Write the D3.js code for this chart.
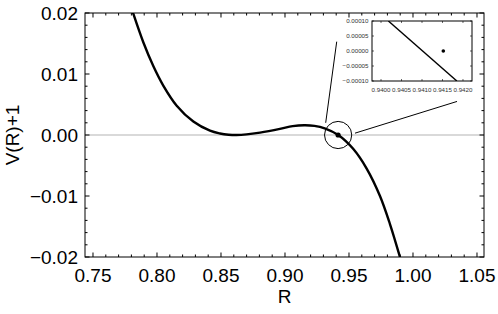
<!DOCTYPE html>
<html><head><meta charset="utf-8">
<script src="https://cdn.jsdelivr.net/npm/d3@7"></script>
<style>html,body{margin:0;padding:0;background:#fff;}svg{display:block;font-family:"Liberation Sans",Arial,sans-serif;}</style>
</head><body>
<script>
// ---- data ----
const curveR = [0.7790,0.7813,0.7893,0.7971,0.8049,0.8154,0.8284,0.8414,0.8492,0.8560,0.8620,0.8700,0.8805,0.8960,0.9060,0.9150,0.9230,0.9310,0.9416,0.9534,0.9638,0.9742,0.9820,0.9898,0.9910];
const curveV = [0.0215,0.0200,0.0152,0.0113,0.0081,0.0048,0.0022,0.0007,0.00025,0.00005,0.0000,0.0001,0.0004,0.0010,0.00145,0.0016,0.0015,0.0011,0.0000,-0.0023,-0.0055,-0.0100,-0.0146,-0.0200,-0.0209];
const xTicks = [0.75,0.80,0.85,0.90,0.95,1.00,1.05];
const xTickLabels = ["0.75","0.80","0.85","0.90","0.95","1.00","1.05"];
const yTicks = [-0.02,-0.01,0.00,0.01,0.02];
const yTickLabels = ["\u22120.02","\u22120.01","0.00","0.01","0.02"];
const pointR = [0.9415];
const pointV = [0.0];
// callout lines (data coordinates of the main plot)
const calloutR1 = [0.9318,0.9404];
const calloutV1 = [0.0020,0.0153];
const calloutR2 = [0.9547,1.0344];
const calloutV2 = [0.0003,0.0055];
// inset
const insetLineR = [0.94018,0.94185];
const insetLineV = [0.00010,-0.00010];
const insetPointR = [0.94152];
const insetPointV = [0.0];
const insetXTicks = [0.9400,0.9405,0.9410,0.9415,0.9420];
const insetXTickLabels = ["0.9400","0.9405","0.9410","0.9415","0.9420"];
const insetYTicks = [-0.00010,-0.00005,0.00000,0.00005,0.00010];
const insetYTickLabels = ["\u22120.00010","\u22120.00005","0.00000","0.00005","0.00010"];

const W = 498, H = 314;
const svg = d3.select("body").append("svg").attr("width",W).attr("height",H);

const x = d3.scaleLinear().domain([0.74375,1.05547]).range([85,484]);
const y = d3.scaleLinear().domain([-0.02,0.02]).range([257,13]);

svg.append("clipPath").attr("id","clip").append("rect")
  .attr("x",85).attr("y",13).attr("width",399).attr("height",244);

// zero line
svg.append("line").attr("x1",85).attr("x2",484).attr("y1",y(0)).attr("y2",y(0))
  .attr("stroke","#b3b3b3").attr("stroke-width",1);

// curve
const pts = curveR.map((r,i)=>[r,curveV[i]]);
svg.append("path").datum(pts).attr("clip-path","url(#clip)")
  .attr("fill","none").attr("stroke","#000").attr("stroke-width",2.4)
  .attr("d", d3.line().x(d=>x(d[0])).y(d=>y(d[1])).curve(d3.curveCatmullRom.alpha(0.5)));

// point + circle
svg.selectAll(".pt").data(pointR).enter().append("circle")
  .attr("cx",(d)=>x(d)).attr("cy",(d,i)=>y(pointV[i])).attr("r",2.6).attr("fill","#000");
svg.append("circle").attr("cx",x(pointR[0])).attr("cy",y(pointV[0])).attr("r",13.6)
  .attr("fill","none").attr("stroke","#000").attr("stroke-width",1);

// callout lines
svg.append("line").attr("x1",x(calloutR1[0])).attr("y1",y(calloutV1[0])).attr("x2",x(calloutR1[1])).attr("y2",y(calloutV1[1]))
  .attr("stroke","#000").attr("stroke-width",1);
svg.append("line").attr("x1",x(calloutR2[0])).attr("y1",y(calloutV2[0])).attr("x2",x(calloutR2[1])).attr("y2",y(calloutV2[1]))
  .attr("stroke","#000").attr("stroke-width",1);

// frame
svg.append("rect").attr("x",85).attr("y",13).attr("width",399).attr("height",244)
  .attr("fill","none").attr("stroke","#000").attr("stroke-width",1);

// ticks
const tk = svg.append("g").attr("stroke","#000").attr("stroke-width",1);
const xMinor = d3.range(75,106).map(v=>v/100).filter(v=>!xTicks.some(t=>Math.abs(t-v)<1e-9));
const yMinor = d3.range(-10,11).map(v=>v*0.002).filter(v=>!yTicks.some(t=>Math.abs(t-v)<1e-9));
xTicks.forEach(t=>{ const px=x(t);
  tk.append("line").attr("x1",px).attr("x2",px).attr("y1",257).attr("y2",252.5);
  tk.append("line").attr("x1",px).attr("x2",px).attr("y1",13).attr("y2",17.5);});
xMinor.forEach(t=>{ const px=x(t);
  tk.append("line").attr("x1",px).attr("x2",px).attr("y1",257).attr("y2",254.5);
  tk.append("line").attr("x1",px).attr("x2",px).attr("y1",13).attr("y2",15.5);});
yTicks.forEach(t=>{ const py=y(t);
  tk.append("line").attr("x1",85).attr("x2",89.5).attr("y1",py).attr("y2",py);
  tk.append("line").attr("x1",484).attr("x2",479.5).attr("y1",py).attr("y2",py);});
yMinor.forEach(t=>{ const py=y(t);
  tk.append("line").attr("x1",85).attr("x2",87.5).attr("y1",py).attr("y2",py);
  tk.append("line").attr("x1",484).attr("x2",481.5).attr("y1",py).attr("y2",py);});

// tick labels
const fs = 19;
svg.selectAll(".xl").data(xTicks).enter().append("text")
  .attr("x",d=>x(d)).attr("y",282).attr("text-anchor","middle").attr("font-size",fs)
  .text((d,i)=>xTickLabels[i]);
svg.selectAll(".yl").data(yTicks).enter().append("text")
  .attr("x",78).attr("y",d=>y(d)+6.8).attr("text-anchor","end").attr("font-size",fs)
  .text((d,i)=>yTickLabels[i]);
svg.append("text").attr("x",284.5).attr("y",303).attr("text-anchor","middle").attr("font-size",fs).text("R");
svg.append("text").attr("transform","translate(19,135) rotate(-90)").attr("text-anchor","middle").attr("font-size",fs).text("V(R)+1");

// inset
const ix = d3.scaleLinear().domain([0.93978,0.94222]).range([372,472]);
const iy = d3.scaleLinear().domain([-0.0001,0.0001]).range([81,21]);
const ig = svg.append("g");
ig.append("rect").attr("x",372).attr("y",21).attr("width",100).attr("height",60).attr("fill","#fff");
ig.append("clipPath").attr("id","iclip").append("rect").attr("x",372).attr("y",21).attr("width",100).attr("height",60);
const ipts = insetLineR.map((r,i)=>[r,insetLineV[i]]);
ig.append("path").datum(ipts).attr("clip-path","url(#iclip)").attr("fill","none").attr("stroke","#000").attr("stroke-width",1.4)
  .attr("d", d3.line().x(d=>ix(d[0])).y(d=>iy(d[1])));
ig.selectAll(".ip").data(insetPointR).enter().append("circle")
  .attr("cx",d=>ix(d)).attr("cy",(d,i)=>iy(insetPointV[i])).attr("r",1.8).attr("fill","#000");
ig.append("rect").attr("x",372).attr("y",21).attr("width",100).attr("height",60)
  .attr("fill","none").attr("stroke","#000").attr("stroke-width",1);
insetXTicks.forEach(t=>{ const px=ix(t);
  ig.append("line").attr("x1",px).attr("x2",px).attr("y1",81).attr("y2",79).attr("stroke","#000").attr("stroke-width",0.6);
  ig.append("line").attr("x1",px).attr("x2",px).attr("y1",21).attr("y2",23).attr("stroke","#000").attr("stroke-width",0.6);});
insetYTicks.forEach(t=>{ const py=iy(t);
  ig.append("line").attr("x1",372).attr("x2",374).attr("y1",py).attr("y2",py).attr("stroke","#000").attr("stroke-width",0.6);
  ig.append("line").attr("x1",472).attr("x2",470).attr("y1",py).attr("y2",py).attr("stroke","#000").attr("stroke-width",0.6);});
ig.selectAll(".ixl").data(insetXTicks).enter().append("text")
  .attr("x",d=>ix(d)).attr("y",91.5).attr("text-anchor","middle").attr("font-size",6.2).attr("fill","#333")
  .text((d,i)=>insetXTickLabels[i]);
ig.selectAll(".iyl").data(insetYTicks).enter().append("text")
  .attr("x",368.5).attr("y",d=>iy(d)+2.2).attr("text-anchor","end").attr("font-size",6.2).attr("fill","#333")
  .text((d,i)=>insetYTickLabels[i]);
</script>
</body></html>
